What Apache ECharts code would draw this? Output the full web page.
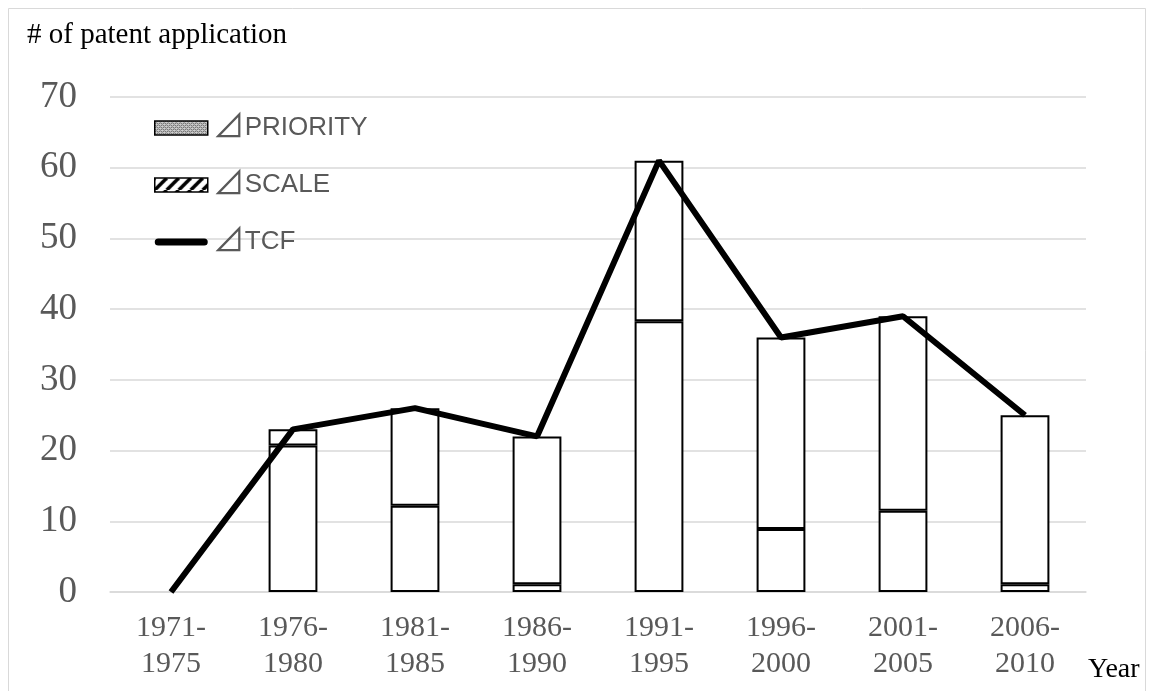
<!DOCTYPE html>
<html><head><meta charset="utf-8">
<script src="https://cdn.jsdelivr.net/npm/echarts@6/dist/echarts.min.js"></script>
<style>html,body{margin:0;padding:0;background:#fff}#c{width:1156px;height:691px}</style>
</head><body><div id="c"></div>
<script>
const categories = ['1971-\n1975','1976-\n1980','1981-\n1985','1986-\n1990','1991-\n1995','1996-\n2000','2001-\n2005','2006-\n2010'];
const priority = [null, 20.7, 12.2, 1.1, 38.3, 8.9, 11.5, 1.1];
const scale = [null, 2.3, 13.8, 20.9, 22.7, 27.1, 27.5, 23.9];
const tcf = [0, 23, 26, 22, 61, 36, 39, 25];
const yTicks = [0, 10, 20, 30, 40, 50, 60, 70];
const seriesNames = ['⊿PRIORITY', '⊿SCALE', '⊿TCF'];

function makePattern(kind){
  const c = document.createElement('canvas');
  if (kind === 'dots'){
    c.width = 4; c.height = 4;
    const g = c.getContext('2d');
    g.fillStyle = '#d0d0d0'; g.fillRect(0,0,4,4);
    g.fillStyle = '#555';
    g.fillRect(0,0,1,1); g.fillRect(2,2,1,1); g.fillRect(2,0,1,1); g.fillRect(0,2,1,1);
    g.fillStyle = '#888'; g.fillRect(1,1,1,1); g.fillRect(3,3,1,1);
  } else {
    c.width = 12; c.height = 12;
    const g = c.getContext('2d');
    g.fillStyle = '#fff'; g.fillRect(0,0,12,12);
    g.strokeStyle = '#000'; g.lineWidth = 3.5;
    for (let k = -12; k <= 24; k += 12){
      g.beginPath(); g.moveTo(k, 12); g.lineTo(k + 12, 0); g.stroke();
    }
  }
  return {image: c, repeat: 'repeat'};
}

const lineIcon = 'path://M0,0 L0.01,0 M0,14 L0.01,14 M3.5,3.5 L49.5,3.5 A3.5,3.5 0 0 1 49.5,10.5 L3.5,10.5 A3.5,3.5 0 0 1 3.5,3.5 Z';

const chart = echarts.init(document.getElementById('c'), null, {renderer:'canvas'});
const serif = '"Liberation Serif","Times New Roman",serif';
const sans = '"Liberation Sans",Arial,sans-serif';
chart.setOption({
  animation: false,
  backgroundColor: '#fff',
  grid: {left: 110, right: 70, top: 97, bottom: 99},
  graphic: [
    {type:'rect', shape:{x:8.5,y:8.5,width:1137,height:690}, style:{fill:'none', stroke:'#d9d9d9', lineWidth:1}, silent:true},
    {type:'text', left: 27, top: 21, style:{text:'# of patent application', font:'29px '+serif, fill:'#000'}},
    {type:'text', left: 1088, top: 656, style:{text:'Year', font:'28px '+serif, fill:'#000'}}
  ],
  legend: {
    orient: 'vertical', left: 149, top: 104, itemWidth: 53, itemHeight: 14, itemGap: 25,
    textStyle: {fontSize: 26, lineHeight: 26, color: '#595959', fontFamily: sans,
      rich: {
        tri: {fontFamily: '"Noto Sans CJK JP"', fontSize: 32, lineHeight: 26, color: '#595959', verticalAlign: 'bottom'},
        t: {fontFamily: sans, fontSize: 26, lineHeight: 26, color: '#595959', verticalAlign: 'bottom'}
      }},
    formatter: name => '{tri|⊿}{t|' + name.slice(1) + '}',
    data: [
      {name: seriesNames[0], icon: 'rect', itemStyle: {color: makePattern('dots'), borderColor: '#000', borderWidth: 1.5}},
      {name: seriesNames[1], icon: 'rect', itemStyle: {color: makePattern('hatch'), borderColor: '#000', borderWidth: 1.5}},
      {name: seriesNames[2], icon: lineIcon, itemStyle: {color: '#000', borderWidth: 0}}
    ]
  },
  xAxis: {
    type: 'category', data: categories,
    axisLine: {lineStyle: {color: '#d9d9d9', width: 1.5}},
    axisTick: {show: false},
    axisLabel: {fontSize: 30, color: '#595959', fontFamily: serif, lineHeight: 36, margin: 18}
  },
  yAxis: {
    type: 'value', min: 0, max: 70, interval: 10,
    axisLine: {show: false}, axisTick: {show: false},
    splitLine: {lineStyle: {color: '#d9d9d9', width: 1.5}},
    axisLabel: {fontSize: 37, color: '#595959', fontFamily: serif, margin: 33,
      formatter: v => yTicks.includes(v) ? String(v) : ''}
  },
  series: [
    {name: seriesNames[0], type: 'bar', stack: 's', data: priority, barWidth: '40%',
      itemStyle: {color: '#fff', borderColor: '#000', borderWidth: 2}},
    {name: seriesNames[1], type: 'bar', stack: 's', data: scale, barWidth: '40%',
      itemStyle: {color: '#fff', borderColor: '#000', borderWidth: 2}},
    {name: seriesNames[2], type: 'line', data: tcf, symbol: 'none', showSymbol: false,
      lineStyle: {color: '#000', width: 6}, itemStyle: {color: '#000'}, z: 5}
  ]
});
</script></body></html>
